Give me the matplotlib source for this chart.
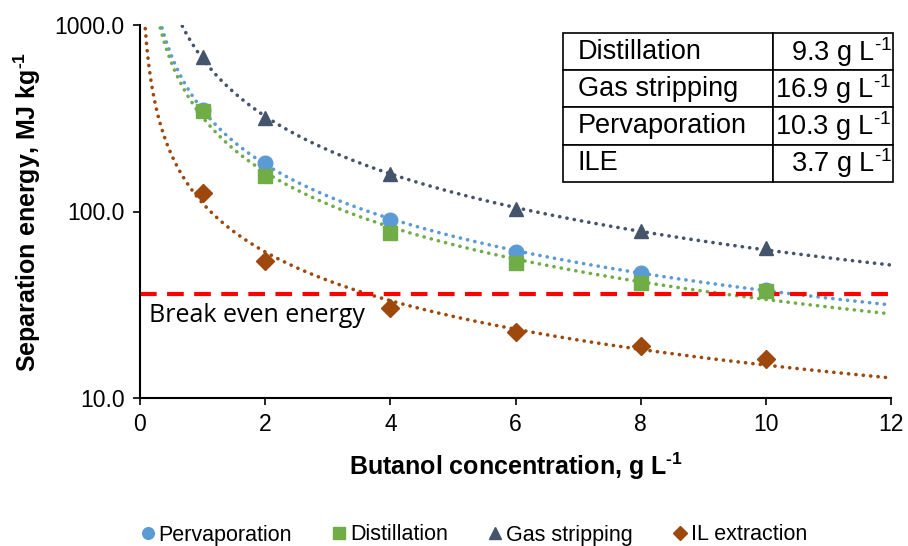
import numpy as np
import matplotlib
matplotlib.use("Agg")
import matplotlib.pyplot as plt
from matplotlib.ticker import FixedLocator, NullLocator, FormatStrFormatter

# ── Data ───────────────────────────────────────────────────────────────
conc = [1, 2, 4, 6, 8, 10]
pervaporation = [350, 182, 90, 61, 47, 38]
distillation = [345, 155, 77, 53, 41.5, 37.5]
gas_stripping = [673, 317, 159, 103, 78.5, 63.5]
il_extraction = [125, 54, 30.5, 22.6, 19.0, 16.2]
break_even = 36.0

table_names = ["Distillation", "Gas stripping", "Pervaporation", "ILE"]
table_values = ["9.3", "16.9", "10.3", "3.7"]

series = [
    ("Pervaporation", pervaporation, "o", "#5B9BD5"),
    ("Distillation", distillation, "s", "#70AD47"),
    ("Gas stripping", gas_stripping, "^", "#44546A"),
    ("IL extraction", il_extraction, "D", "#9E480E"),
]

plt.rcParams["font.family"] = ["Liberation Sans", "DejaVu Sans"]
plt.rcParams["mathtext.fontset"] = "custom"
plt.rcParams["mathtext.rm"] = "Liberation Sans"
plt.rcParams["mathtext.bf"] = "Liberation Sans:bold"

SUP = "$^{\\mathrm{\u2010}1}$"
SUPB = "$^{\\mathbf{\u2010}\\mathbf{1}}$"

fig = plt.figure(figsize=(9.08, 5.46), dpi=100)
ax = fig.add_axes([140 / 908, 1 - 398 / 546, (891 - 140) / 908, (398 - 25) / 546])

xfit = np.linspace(0.05, 12, 400)
for name, vals, marker, color in series:
    # power trendline, like Excel's
    b, loga = np.polyfit(np.log(conc), np.log(vals), 1)
    ax.plot(xfit, np.exp(loga) * xfit ** b, color=color, lw=2.6,
            linestyle=(0, (0.05, 2.0)), dash_capstyle="round", zorder=2)
    ms = 10.5 if marker != "D" else 9
    ax.plot(conc, vals, marker=marker, linestyle="none", color=color,
            ms=ms, label=name, zorder=3)

ax.axhline(break_even, color="#FF0000", lw=3, linestyle=(0, (4, 2.5)), zorder=2.5)
ax.text(0.15, 32.3, "Break even energy", fontsize=18, family=["Open Sans", "DejaVu Sans"],
        va="top", ha="left")

ax.set_yscale("log")
ax.set_ylim(10, 1000)
ax.set_xlim(0, 12)
ax.yaxis.set_major_locator(FixedLocator([10, 100, 1000]))
ax.yaxis.set_minor_locator(NullLocator())
ax.yaxis.set_major_formatter(FormatStrFormatter("%.1f"))
ax.set_xticks(range(0, 13, 2))
ax.tick_params(labelsize=16.5, length=5, width=1.2, color="black", pad=6)
for side in ("top", "right"):
    ax.spines[side].set_visible(False)
for side in ("left", "bottom"):
    ax.spines[side].set_linewidth(1.5)

ax.set_xlabel("Butanol concentration, g L" + SUPB, fontsize=18, fontweight="bold", labelpad=10)
ax.set_ylabel("Separation energy, MJ kg" + SUPB, fontsize=18, fontweight="bold", labelpad=8)

# table in top right
cells = [[n, f"{v} g L" + SUP] for n, v in zip(table_names, table_values)]
tab = ax.table(cellText=cells, cellLoc="left",
               bbox=[(563 - 140) / 751, (398 - 182) / 373, (893 - 563) / 751, (182 - 33) / 373],
               colWidths=[210, 120], zorder=5)
tab.auto_set_font_size(False)
for (r, c), cell in tab.get_celld().items():
    cell.set_linewidth(1.2)
    cell.set_edgecolor("black")
    cell.set_facecolor("white")
    cell.get_text().set_fontsize(19.5)
    if c == 0:
        cell.PAD = 0.07
    else:
        cell.PAD = 0.01
        cell._loc = "right"
        cell.get_text().set_ha("right")

fig.legend(loc="center", bbox_to_anchor=(472 / 908, 1 - 535 / 546), ncol=4, frameon=False,
           fontsize=15.5, handletextpad=0.0, handlelength=1.0, columnspacing=1.7, markerscale=0.8)

fig.savefig("out.png", dpi=100)
